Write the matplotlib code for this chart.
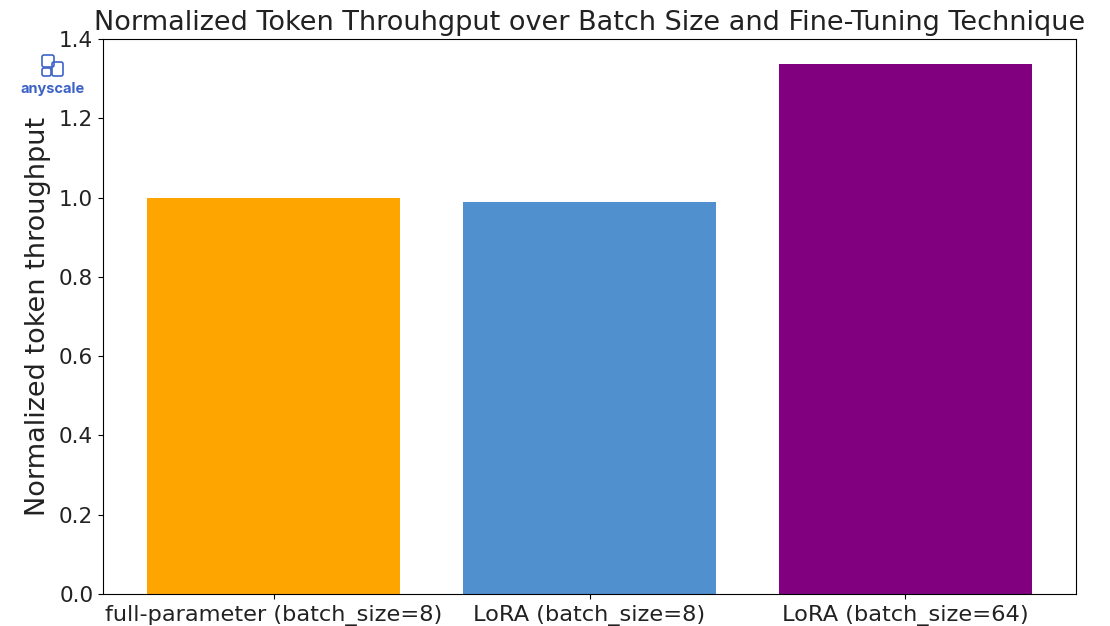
import matplotlib
matplotlib.use('Agg')
import matplotlib.pyplot as plt
from matplotlib.patches import FancyBboxPatch

techniques = ['full-parameter (batch_size=8)', 'LoRA (batch_size=8)', 'LoRA (batch_size=64)']
throughput = [1.0, 0.988, 1.338]
colors = ['#FFA500', '#5090CE', '#800080']
y_ticks = [0.0, 0.2, 0.4, 0.6, 0.8, 1.0, 1.2, 1.4]

fig = plt.figure(figsize=(11.10, 6.26), dpi=100)
ax = fig.add_axes([103 / 1110, 1 - 594 / 626, (1076 - 103) / 1110, (594 - 39) / 626])

ax.bar(techniques, throughput, color=colors, width=0.8)
ax.set_ylim(0, 1.4)
ax.set_yticks(y_ticks)
ax.tick_params(axis='y', labelsize=15.5, labelcolor='#222222')
ax.tick_params(axis='x', labelsize=16.2, labelcolor='#222222', pad=4.5)
ax.set_ylabel('Normalized token throughput', fontsize=19.5, color='#222222', labelpad=6)
ax.set_title('Normalized Token Throuhgput over Batch Size and Fine-Tuning Technique',
             fontsize=19.5, pad=6.5, color='#222222')

# logo
logo = fig.add_axes([0, 1 - 100 / 626, 105 / 1110, 50 / 626])
logo.set_xlim(0, 105)
logo.set_ylim(50, 0)
logo.axis('off')
for x, y, w, h in [(42, 5, 12, 12), (42, 18, 9, 8), (52, 12, 11, 14)]:
    logo.add_patch(FancyBboxPatch((x, y), w, h, boxstyle='round,pad=0,rounding_size=2',
                                  fill=False, edgecolor='#3D63C8', linewidth=1.2))
logo.text(52.5, 43, 'anyscale', color='#3D63C8', fontsize=10.5, fontweight='bold',
          ha='center', va='baseline', family='Inter')

fig.savefig('out.png', dpi=100)
